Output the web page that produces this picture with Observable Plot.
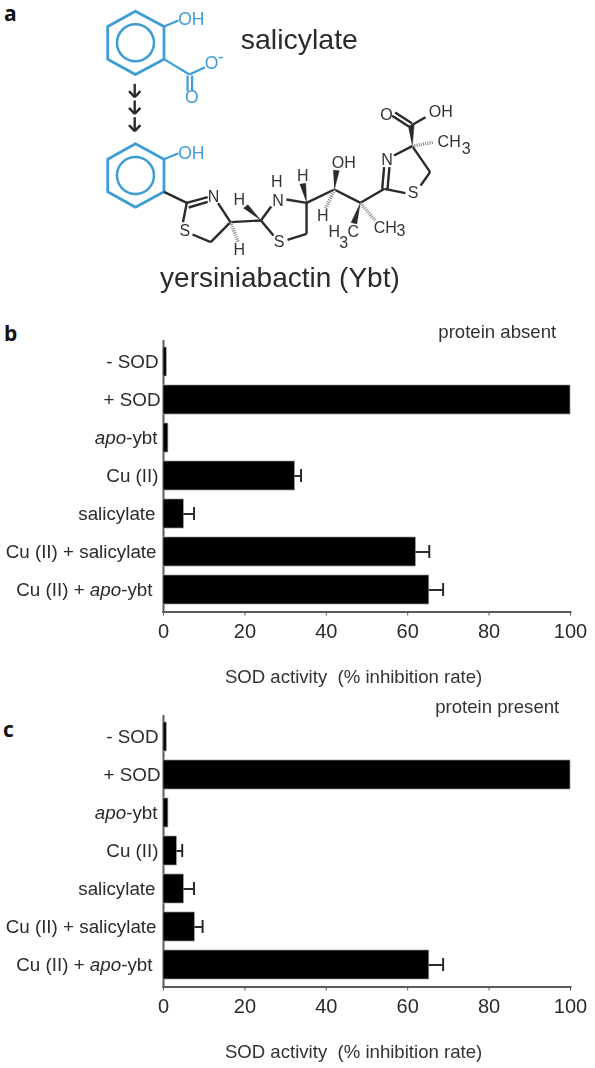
<!DOCTYPE html>
<html>
<head>
<meta charset="utf-8">
<script src="https://cdn.jsdelivr.net/npm/d3@7"></script>
<script src="https://cdn.jsdelivr.net/npm/@observablehq/plot@0.6"></script>
<style>
html,body{margin:0;padding:0;background:#fff;}
#page{position:relative;width:595px;height:1068px;overflow:hidden;}
#page svg{position:absolute;left:0;filter:blur(0.5px);}
.letter{position:absolute;font:700 21px "Open Sans",sans-serif;color:#111;line-height:1;}
</style>
</head>
<body>
<div id="page"></div>
<script>
// ---- bar data ----
const categories = ["- SOD","+ SOD","apo-ybt","Cu (II)","salicylate","Cu (II) + salicylate","Cu (II) + apo-ybt"];
const absentValues  = [0.8,100,1.2,32.3,5,62,65.3];
const absentHighs   = [0.8,100,1.2,33.8,7.5,65.3,68.7];
const presentValues = [0.8,100,1.2,3.3,5,7.7,65.3];
const presentHighs  = [0.8,100,1.2,4.6,7.5,9.6,68.7];
const xTicks = [0,20,40,60,80,100];

// ---- structure diagram (in picture units) ----
const blueHexagons = [
  [[355,32],[430,78],[430,176],[355,222],[282,176],[282,78],[355,32]],
  [[355,430],[430,476],[430,574],[355,620],[282,574],[282,476],[355,430]]
];
const blueRings = [[355,127],[355,525]];
const blueBonds = [
  [430,78,468,60],[430,176,497,222],[497,222,538,200],
  [492,225,492,272],[504,225,504,272],[430,476,468,458]
];
const blueAtoms = [[502,58,"OH"],[555,190,"O"],[579,170,"-"],[503,290,"O"],[502,458,"OH"]];
const arrowBonds = [
  [353,250,353,290],[338,272,353,290],[368,272,353,290],
  [353,300,353,340],[338,322,353,340],[368,322,353,340],
  [353,350,353,392],[338,374,353,392],[368,374,353,392]
];
const blackBonds = [
  [430,574,490,607],[490,607,545,590],[495,621,545,604],[572,608,605,665],
  [605,665,553,725],[553,725,505,702],[480,665,490,607],
  [605,665,685,660],[685,660,712,618],[752,597,805,607],
  [805,607,805,700],[805,700,755,718],[718,705,685,660],
  [805,607,878,567],[878,567,947,607],[947,607,1010,565],
  [1004,565,1009,500],[1018,565,1023,500],[1010,565,1065,578],
  [1105,555,1130,515],[1130,515,1083,437],[1035,465,1083,437],
  [1074,378,1030,346],[1082,368,1038,336],[1080,375,1118,350]
];
const wedges = [[685,660,645,618],[805,607,795,550],[878,567,883,510],[947,607,930,668],[1083,437,1080,375]];
const hashes = [[605,665,625,725],[878,567,855,625],[947,607,985,660],[1083,437,1140,425]];
const blackAtoms = [
  [560,590,"N"],[485,690,"S"],[628,597,"H"],[628,748,"H"],[730,600,"N"],[727,543,"H"],
  [733,725,"S"],[795,525,"H"],[903,487,"OH"],[848,647,"H"],[878,695,"H"],[903,728,"3"],[928,695,"C"],
  [1012,682,"CH"],[1053,692,"3"],[1017,478,"N"],[1085,578,"S"],[1015,342,"O"],[1158,333,"OH"],
  [1180,425,"CH"],[1225,445,"3"]
];
const compoundNames = [[786,118,"salicylate"],[735,832,"yersiniabactin (Ybt)"]];
const labelNudge = {"+ SOD":2,"apo-ybt":-1,"salicylate":-3,"Cu (II) + salicylate":-2,"Cu (II) + apo-ybt":-6};

const bond = (rows, stroke, strokeWidth, extra = {}) =>
  Plot.link(rows, {x1: d => d[0], y1: d => d[1], x2: d => d[2], y2: d => d[3], stroke, strokeWidth, ...extra});
const labels = (rows, fill, fontSize) =>
  Plot.text(rows, {x: d => d[0], y: d => d[1], text: d => d[2], fill, fontSize});

const wedgeShapes = wedges.flatMap((w, id) => {
  const [x1,y1,x2,y2] = w, dx = x2-x1, dy = y2-y1, n = Math.hypot(dx,dy), hw = 8;
  return [[x1,y1],[x2 - dy/n*hw, y2 + dx/n*hw],[x2 + dy/n*hw, y2 - dx/n*hw]].map(([x,y]) => ({id,x,y}));
});

const page = document.getElementById("page");
const blue = "#3f9dd6", dark = "#2a2a2a";

const structure = Plot.plot({
  width: 595, height: 310, margin: 0,
  x: {domain: [0,1565], range: [0,595], axis: null},
  y: {domain: [0,930], range: [0,310], axis: null},
  style: {fontFamily: "'Liberation Sans',Arial,sans-serif", background: "transparent"},
  marks: [
    ...blueHexagons.map(h => Plot.line(h, {x: d => d[0], y: d => d[1], stroke: blue, strokeWidth: 2.8})),
    Plot.dot(blueRings, {x: d => d[0], y: d => d[1], r: 18.5, stroke: blue, strokeWidth: 2.5}),
    bond(blueBonds, blue, 2.2),
    labels(blueAtoms, blue, 17.5),
    bond(arrowBonds, dark, 2.4),
    bond(blackBonds, dark, 2.4),
    Plot.line(wedgeShapes, {x: "x", y: "y", z: "id", fill: dark, stroke: dark, strokeWidth: 0.5}),
    bond(hashes, "#8a8a8a", 3.5, {strokeDasharray: "1 1.2"}),
    labels(blackAtoms, "#333", 16),
    labels(compoundNames.slice(0,1), "#2b2b2b", 28.5),
    labels(compoundNames.slice(1), "#2b2b2b", 28)
  ]
});
structure.style.top = "0px";
page.appendChild(structure);

function panel(values, highs, note, top) {
  const rows = categories.map((c,i) => ({c, v: values[i], hi: highs[i]}));
  const svg = Plot.plot({
    width: 595, height: 380,
    marginLeft: 163, marginRight: 25, marginTop: 20.5, marginBottom: 88.5,
    x: {domain: [0,100]},
    y: {domain: categories, paddingInner: 0.224, paddingOuter: 0.116},
    style: {fontFamily: "'Liberation Sans',Arial,sans-serif", fontSize: "18.8px", color: "#2b2b2b", background: "transparent", overflow: "visible"},
    marks: [
      Plot.frame({anchor: "left", stroke: "#5a5a5a", strokeWidth: 2}),
      Plot.frame({anchor: "bottom", stroke: "#5a5a5a", strokeWidth: 2}),
      Plot.barX(rows, {x: "v", y: "c", fill: "#000", stroke: "#999", strokeWidth: 0.7}),
      Plot.ruleY(rows, {y: "c", x1: "v", x2: "hi", stroke: "#222", strokeWidth: 1.9}),
      Plot.tickX(rows.filter(d => d.hi > d.v), {x: "hi", y: "c", insetTop: 8, insetBottom: 8, stroke: "#222", strokeWidth: 1.9}),
      Plot.axisX({ticks: xTicks, tickSize: 4, tickPadding: 8, label: null, fontSize: 20, stroke: "#5a5a5a"}),
      Plot.axisY({tickSize: 0, tickPadding: 5, label: null}),
      Plot.text([note], {x: () => 82, frameAnchor: "top", dy: -16, text: d => d, fontSize: 18.6, fill: "#333"}),
      Plot.text(["SOD activity  (% inhibition rate)"], {x: () => 46.7, frameAnchor: "bottom", dy: 71, text: d => d, fontSize: 18.6, fill: "#333"})
    ]
  });
  svg.querySelectorAll("text").forEach(t => {
    const label = t.textContent;
    if (!categories.includes(label)) return;
    if (labelNudge[label]) t.setAttribute("dx", labelNudge[label]);
    // the "apo" prefix is set in italics
    if (!label.includes("apo-")) return;
    const [before, after] = label.split("apo");
    t.textContent = "";
    const add = (s, it) => { const n = document.createElementNS("http://www.w3.org/2000/svg","tspan"); n.textContent = s; if (it) n.setAttribute("font-style","italic"); t.appendChild(n); };
    if (before) add(before);
    add("apo", true);
    add(after);
  });
  svg.style.top = top + "px";
  page.appendChild(svg);
}
panel(absentValues, absentHighs, "protein absent", 320);
panel(presentValues, presentHighs, "protein present", 695);

[["a",4,3],["b",4,323],["c",3,719]].forEach(([s,x,y]) => {
  const d = document.createElement("div");
  d.className = "letter"; d.textContent = s;
  d.style.left = x + "px"; d.style.top = y + "px";
  page.appendChild(d);
});
</script>
</body>
</html>
